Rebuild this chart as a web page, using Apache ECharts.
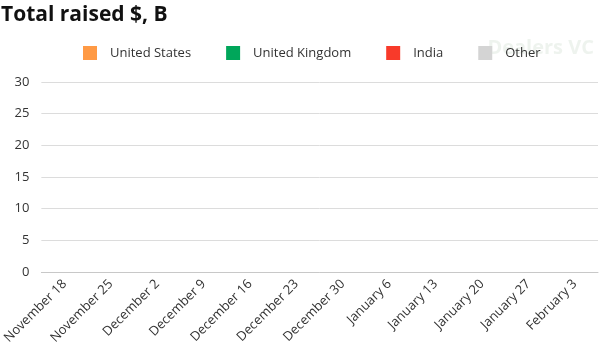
<!DOCTYPE html>
<html><head><meta charset="utf-8">
<script src="https://cdn.jsdelivr.net/npm/echarts@6/dist/echarts.min.js"></script>
<style>html,body{margin:0;padding:0;background:#fff}#c{width:600px;height:350px}</style>
</head><body><div id="c"></div>
<script>
const categories = ["November 18","November 25","December 2","December 9","December 16","December 23","December 30","January 6","January 13","January 20","January 27","February 3"];
const unitedStates = [0,0,0,0,0,0,0,0,0,0,0,0];
const unitedKingdom = [0,0,0,0,0,0,0,0,0,0,0,0];
const india = [0,0,0,0,0,0,0,0,0,0,0,0];
const other = [0,0,0,0,0,0,0,0,0,0,0,0];
const seriesNames = ["United States","United Kingdom","India","Other"];
const seriesColors = ["#FF9A45","#00A65A","#F83A2A","#D4D4D4"];
const seriesData = [unitedStates, unitedKingdom, india, other];

const chart = echarts.init(document.getElementById('c'));
chart.setOption({
  animation: false,
  backgroundColor: '#fff',
  textStyle: {fontFamily: 'Open Sans'},
  title: {text: 'Total raised $, B', left: -4, top: 0,
    textStyle: {fontFamily: 'Open Sans', fontWeight: 'bold', fontSize: 21, color: '#111'}},
  legend: {left: 78, top: 41, itemWidth: 14, itemHeight: 14, itemGap: 35, icon: 'rect',
    textStyle: {fontSize: 13, color: '#333', padding: [0,0,0,8]},
    data: seriesNames},
  graphic: [{type: 'text', right: 6, top: 38, style: {text: 'Dealers VC', fontSize: 20, fontWeight: 'bold', fill: 'rgba(200,215,200,0.3)', fontFamily: 'Open Sans'}}],
  grid: {left: 34, right: 2, top: 82, bottom: 78},
  xAxis: {type: 'category', data: categories,
    axisLine: {show: true, lineStyle: {color: '#C8C8C8'}}, axisTick: {show: false},
    axisLabel: {rotate: 45, fontSize: 13, color: '#333', interval: 0, margin: 10}},
  yAxis: {type: 'value', min: 0, max: 30, interval: 5,
    axisLine: {show: false}, axisTick: {show: false},
    axisLabel: {fontSize: 13, color: '#333', margin: 12},
    splitLine: {lineStyle: {color: '#DCDCDC', width: 1}}},
  series: seriesNames.map((n, i) => ({
    name: n, type: 'bar', stack: 'total', data: seriesData[i],
    itemStyle: {color: seriesColors[i]}, barWidth: '60%'
  }))
});
</script></body></html>
